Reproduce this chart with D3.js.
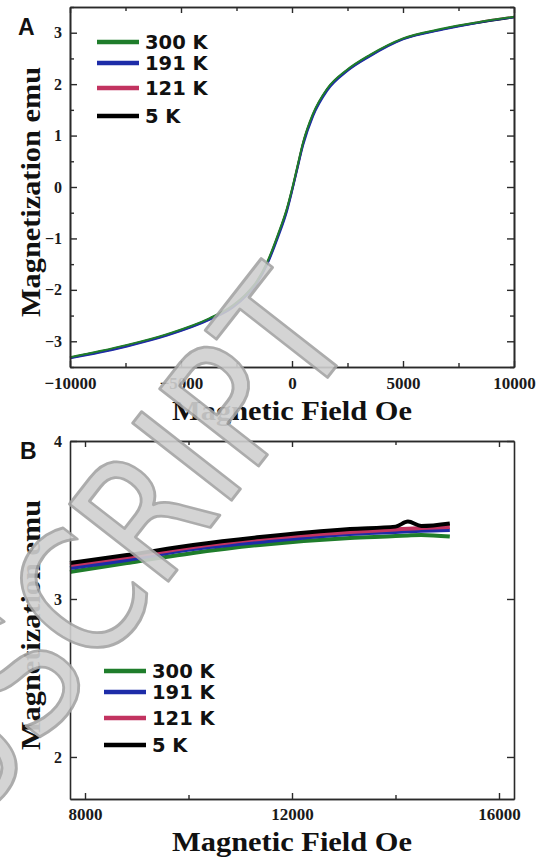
<!DOCTYPE html>
<html>
<head>
<meta charset="utf-8">
<script src="https://cdn.jsdelivr.net/npm/d3@7"></script>
<style>
  body { margin: 0; background: #fff; }
  svg { display: block; }
</style>
</head>
<body>
<svg id="fig" width="542" height="863"></svg>
<script>
// ---- Data ----------------------------------------------------------
const seriesNames = ["300 K", "191 K", "121 K", "5 K"];
const seriesColors = ["#1f7d2b", "#1d2ca8", "#c23360", "#000000"];

// Panel A: magnetization vs applied field, full sweep
const fieldA = [-10000, -8650, -7430, -5630, -3700, -2660, -2000, -1580, -1130, -630, -225, 0,
                225, 500, 950, 1580, 2480, 3510, 5000, 6800, 8330, 10000];
const m300A = [-3.31, -3.19, -3.07, -2.86, -2.55, -2.30, -2.05, -1.83, -1.47, -0.92, -0.41, -0.04,
               0.37, 0.87, 1.43, 1.91, 2.28, 2.57, 2.89, 3.08, 3.20, 3.31];
const m191A = [-3.33, -3.22, -3.10, -2.89, -2.58, -2.34, -2.09, -1.87, -1.52, -0.98, -0.47, -0.09,
               0.32, 0.81, 1.38, 1.87, 2.25, 2.54, 2.87, 3.06, 3.19, 3.30];
const m121A = [-3.32, -3.21, -3.09, -2.88, -2.57, -2.32, -2.07, -1.85, -1.50, -0.95, -0.44, -0.07,
               0.34, 0.84, 1.40, 1.89, 2.26, 2.55, 2.88, 3.07, 3.20, 3.31];
const m5A   = [-3.32, -3.20, -3.08, -2.87, -2.56, -2.31, -2.06, -1.84, -1.49, -0.94, -0.43, -0.06,
               0.35, 0.85, 1.41, 1.90, 2.27, 2.56, 2.88, 3.07, 3.19, 3.30];

const xTicksA = [-10000, -5000, 0, 5000, 10000];
const xMinorA = [-7500, -2500, 2500, 7500];
const yTicksA = [-3, -2, -1, 0, 1, 2, 3];
const yMinorA = [-3.5, -2.5, -1.5, -0.5, 0.5, 1.5, 2.5, 3.5];

// Panel B: high-field detail
const fieldB = [7710, 8810, 10090, 11380, 13120, 14000, 14240, 14500, 15050];
const m300B = [3.171, 3.228, 3.291, 3.342, 3.386, 3.398, 3.402, 3.405, 3.395];
const m191B = [3.196, 3.247, 3.316, 3.361, 3.411, 3.424, 3.428, 3.432, 3.437];
const m121B = [3.215, 3.266, 3.329, 3.380, 3.424, 3.440, 3.445, 3.449, 3.456];
const m5B   = [3.228, 3.278, 3.342, 3.392, 3.443, 3.458, 3.490, 3.462, 3.478];

const xTicksB = [8000, 12000, 16000];
const xMinorB = [10000, 14000];
const yTicksB = [2, 3, 4];

const xTitle = "Magnetic Field Oe";
const yTitle = "Magnetization emu";

// ---- Drawing -------------------------------------------------------
const svg = d3.select("#fig");
const serif = "'Liberation Serif', 'Times New Roman', serif";
const sans = "'DejaVu Sans', Verdana, sans-serif";
const axisColor = "#2a2a2a";

function drawPanel(p) {
  const g = svg.append("g");
  const x = d3.scaleLinear().domain(p.xDomain).range([p.left, p.right]);
  const y = d3.scaleLinear().domain(p.yDomain).range([p.bottom, p.top]);

  // curves
  const line = d3.line()
    .x(d => x(d[0])).y(d => y(d[1]))
    .curve(d3.curveMonotoneX);
  p.order.forEach(i => {
    const pts = p.fields.map((f, k) => [f, p.values[i][k]]);
    g.append("path")
      .attr("d", line(pts))
      .attr("fill", "none")
      .attr("stroke", seriesColors[i])
      .attr("stroke-width", p.lineWidth)
      .attr("stroke-linejoin", "round");
  });

  // axes: ticks point inward on all four sides
  const mk = (axis, scale, ticks, size, labels) =>
    axis(scale).tickValues(ticks).tickSizeInner(size).tickSizeOuter(0)
      .tickPadding(p.pad).tickFormat(labels ? d3.format("d") : "");

  const addAxis = (axisGen, tx, ty) => {
    const a = g.append("g").attr("transform", `translate(${tx},${ty})`).call(axisGen);
    a.select(".domain").attr("stroke", axisColor).attr("stroke-width", 1.6);
    a.selectAll(".tick line").attr("stroke", axisColor).attr("stroke-width", 1.4);
    return a;
  };

  const bx = addAxis(mk(d3.axisBottom, x, p.xTicks, -6, true), 0, p.bottom);
  bx.selectAll("text").attr("font-family", serif).attr("font-weight", "bold")
    .attr("font-size", 17).attr("fill", "#1a1a1a").attr("dy", "0").attr("y", p.xLabelDy);
  addAxis(mk(d3.axisBottom, x, p.xMinor, -4, false), 0, p.bottom);
  addAxis(mk(d3.axisTop, x, p.xTicks, -6, false), 0, p.top);
  addAxis(mk(d3.axisTop, x, p.xMinor, -4, false), 0, p.top);

  const ly = addAxis(mk(d3.axisLeft, y, p.yTicks, -7, true), p.left, 0);
  ly.selectAll("text").attr("font-family", serif).attr("font-weight", "bold")
    .attr("font-size", 16).attr("fill", "#1a1a1a").attr("x", -8);
  if (p.yMinor) addAxis(mk(d3.axisLeft, y, p.yMinor, -4, false), p.left, 0);
  addAxis(mk(d3.axisRight, y, p.yTicks, -7, false), p.right, 0);
  if (p.yMinor) addAxis(mk(d3.axisRight, y, p.yMinor, -4, false), p.right, 0);

  // axis titles
  g.append("text")
    .attr("x", (p.left + p.right) / 2).attr("y", p.xTitleY)
    .attr("text-anchor", "middle")
    .attr("font-family", serif).attr("font-weight", "bold").attr("font-size", 28)
    .attr("textLength", 240).attr("lengthAdjust", "spacingAndGlyphs")
    .attr("fill", "#111").text(xTitle);
  g.append("text")
    .attr("transform", `translate(40,${p.yTitleCy}) rotate(-90)`)
    .attr("text-anchor", "middle")
    .attr("font-family", serif).attr("font-weight", "bold").attr("font-size", 27)
    .attr("textLength", 250).attr("lengthAdjust", "spacingAndGlyphs")
    .attr("fill", "#111").text(yTitle);

  // panel letter
  g.append("text")
    .attr("x", p.letterX).attr("y", p.letterY)
    .attr("font-family", "'Liberation Sans', Arial, sans-serif")
    .attr("font-weight", "bold").attr("font-size", 23)
    .attr("fill", "#111").text(p.letter);

  // legend
  const leg = g.append("g");
  seriesNames.forEach((name, i) => {
    const ly0 = p.legendY[i];
    leg.append("line")
      .attr("x1", p.legendX).attr("x2", p.legendX + 42)
      .attr("y1", ly0).attr("y2", ly0)
      .attr("stroke", seriesColors[i]).attr("stroke-width", 4.5);
    leg.append("text")
      .attr("x", p.legendX + 48).attr("y", ly0 + 7)
      .attr("font-family", sans).attr("font-weight", "bold").attr("font-size", 19.5)
      .attr("fill", "#111").text(name);
  });
}

drawPanel({
  letter: "A", letterX: 18, letterY: 35,
  left: 70, right: 514, top: 7, bottom: 367,
  xDomain: [-10000, 10000], yDomain: [-3.5, 3.5],
  xTicks: xTicksA, xMinor: xMinorA, yTicks: yTicksA, yMinor: yMinorA,
  fields: fieldA, values: [m300A, m191A, m121A, m5A], order: [3, 2, 1, 0],
  lineWidth: 2, pad: 6, xLabelDy: 22,
  xTitleY: 420, yTitleCy: 192,
  legendX: 97, legendY: [42, 63, 88, 116]
});

drawPanel({
  letter: "B", letterX: 20, letterY: 459,
  left: 70, right: 514, top: 441, bottom: 799,
  xDomain: [7710, 16290], yDomain: [1.734, 4],
  xTicks: xTicksB, xMinor: xMinorB, yTicks: yTicksB, yMinor: null,
  fields: fieldB, values: [m300B, m191B, m121B, m5B], order: [0, 1, 2, 3],
  lineWidth: 4, pad: 6, xLabelDy: 21,
  xTitleY: 851, yTitleCy: 625,
  legendX: 104, legendY: [671, 692, 718, 745]
});

// diagonal stamp across both panels
svg.append("text")
  .attr("transform", "translate(360,336) rotate(-52) scale(0.86,1)")
  .attr("text-anchor", "end")
  .attr("font-family", "'DejaVu Sans', sans-serif")
  .attr("font-size", 172)
  .attr("fill", "#d0d0d0")
  .attr("stroke", "#a4a4a4")
  .attr("stroke-width", 3)
  .attr("stroke-linejoin", "round")
  .attr("opacity", 0.9)
  .text("MANUSCRIPT");
</script>
</body>
</html>
